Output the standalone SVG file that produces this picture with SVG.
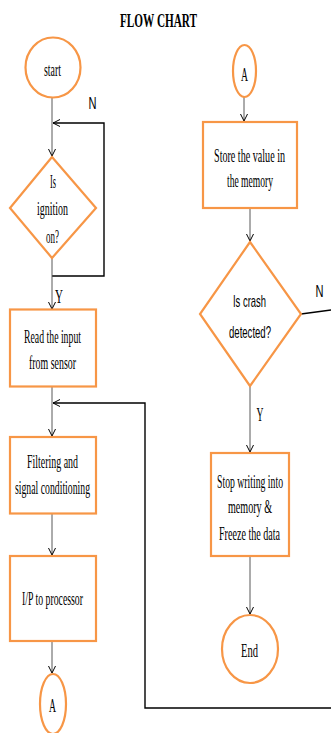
<svg xmlns="http://www.w3.org/2000/svg" width="331" height="733" viewBox="0 0 331 733">
<style>
.sh{fill:#fff;stroke:#F79646;stroke-width:2.2}
.c{fill:none;stroke:#595959;stroke-width:1}
.lp{fill:none;stroke:#000;stroke-width:1.4}
.t{font-family:"Liberation Serif",serif;font-size:19px;fill:#000;text-anchor:middle}
.s{font-family:"Liberation Sans",sans-serif;font-size:17px;fill:#000;text-anchor:middle}
</style>
<defs>
<marker id="ar" markerUnits="userSpaceOnUse" markerWidth="10" markerHeight="10" refX="7" refY="4" orient="auto">
<path d="M0,0.5 L7,4 L0,7.5" fill="none" stroke="#000" stroke-width="1"/>
</marker>
</defs>
<rect width="331" height="733" fill="#fff"/>
<text class="t" x="158.5" y="27" font-weight="bold" font-size="18" textLength="77" lengthAdjust="spacingAndGlyphs">FLOW CHART</text>

<g id="connectors">
<line class="c" x1="52" y1="97" x2="52" y2="156" marker-end="url(#ar)"/>
<polyline class="lp" points="52,276 104,276 104,123 53,123" marker-end="url(#ar)"/>
<line class="c" x1="52" y1="258" x2="52" y2="309" marker-end="url(#ar)"/>
<line class="c" x1="52" y1="387" x2="52" y2="436" marker-end="url(#ar)"/>
<polyline class="lp" points="331,708 145,708 145,403 53,403" marker-end="url(#ar)"/>
<line class="c" x1="52" y1="514" x2="52" y2="555" marker-end="url(#ar)"/>
<line class="c" x1="52" y1="641" x2="52" y2="673" marker-end="url(#ar)"/>
<line class="c" x1="244" y1="97" x2="244" y2="121" marker-end="url(#ar)"/>
<line class="c" x1="250" y1="208" x2="250" y2="241" marker-end="url(#ar)"/>
<line class="lp" x1="301" y1="314" x2="331" y2="310"/>
<line class="c" x1="250" y1="386" x2="250" y2="452" marker-end="url(#ar)"/>
<line class="c" x1="250" y1="556" x2="250" y2="614" marker-end="url(#ar)"/>
<text class="s" x="92.5" y="109" textLength="8" lengthAdjust="spacingAndGlyphs">N</text>
<text class="t" transform="translate(59,303) scale(0.55,1)" textLength="14.5" lengthAdjust="spacingAndGlyphs">Y</text>
<text class="s" x="319.5" y="297" textLength="8" lengthAdjust="spacingAndGlyphs">N</text>
<text class="t" transform="translate(260,421) scale(0.55,1)" textLength="12.7" lengthAdjust="spacingAndGlyphs">Y</text>
</g>

<g id="start">
<ellipse class="sh" cx="53" cy="67.5" rx="27.5" ry="30"/>
<text class="t" transform="translate(52.5,76) scale(0.55,1)" textLength="30.9" lengthAdjust="spacingAndGlyphs">start</text>
</g>

<g id="ignition">
<polygon class="sh" points="52,157 96,208 52,258 10,208"/>
<text class="t" transform="translate(53,188) scale(0.55,1)" textLength="10.9" lengthAdjust="spacingAndGlyphs">Is</text>
<text class="t" transform="translate(52.5,215) scale(0.55,1)" textLength="56.4" lengthAdjust="spacingAndGlyphs">ignition</text>
<text class="t" transform="translate(52.5,243) scale(0.55,1)" textLength="23.6" lengthAdjust="spacingAndGlyphs">on?</text>
</g>

<g id="read">
<rect class="sh" x="10" y="309.5" width="86" height="77"/>
<text class="t" transform="translate(52.5,343) scale(0.55,1)" textLength="103.6" lengthAdjust="spacingAndGlyphs">Read the input</text>
<text class="t" transform="translate(52.5,369) scale(0.55,1)" textLength="85.5" lengthAdjust="spacingAndGlyphs">from sensor</text>
</g>

<g id="filter">
<rect class="sh" x="10" y="437" width="86" height="76.5"/>
<text class="t" transform="translate(52.5,468) scale(0.55,1)" textLength="92.7" lengthAdjust="spacingAndGlyphs">Filtering and</text>
<text class="t" transform="translate(52.5,494) scale(0.55,1)" textLength="136.4" lengthAdjust="spacingAndGlyphs">signal conditioning</text>
</g>

<g id="processor">
<rect class="sh" x="10" y="556" width="86" height="85"/>
<text class="t" transform="translate(52.5,605) scale(0.55,1)" textLength="110.9" lengthAdjust="spacingAndGlyphs">I/P to processor</text>
</g>

<g id="connA1">
<ellipse class="sh" cx="53" cy="704" rx="13" ry="30"/>
<text class="t" transform="translate(52.5,712) scale(0.55,1)" textLength="12.7" lengthAdjust="spacingAndGlyphs">A</text>
</g>

<g id="connA2">
<ellipse class="sh" cx="244.5" cy="71" rx="11.5" ry="26"/>
<text class="t" transform="translate(244.5,81) scale(0.55,1)" textLength="12.7" lengthAdjust="spacingAndGlyphs">A</text>
</g>

<g id="store">
<rect class="sh" x="203" y="122" width="94" height="86"/>
<text class="t" transform="translate(249.5,162) scale(0.55,1)" textLength="129.1" lengthAdjust="spacingAndGlyphs">Store the value in</text>
<text class="t" transform="translate(250,187) scale(0.55,1)" textLength="83.6" lengthAdjust="spacingAndGlyphs">the memory</text>
</g>

<g id="crash">
<polygon class="sh" points="250,242 301,314 250,386 200,314"/>
<text class="s" x="249.5" y="307" textLength="33" lengthAdjust="spacingAndGlyphs">Is crash</text>
<text class="s" x="250" y="338" textLength="42" lengthAdjust="spacingAndGlyphs">detected?</text>
</g>

<g id="freeze">
<rect class="sh" x="211" y="453" width="78" height="103"/>
<text class="t" transform="translate(250,488) scale(0.55,1)" textLength="120" lengthAdjust="spacingAndGlyphs">Stop writing into</text>
<text class="t" transform="translate(250,513) scale(0.55,1)" textLength="80" lengthAdjust="spacingAndGlyphs">memory &amp;</text>
<text class="t" transform="translate(249.5,540) scale(0.55,1)" textLength="110.9" lengthAdjust="spacingAndGlyphs">Freeze the data</text>
</g>

<g id="end">
<ellipse class="sh" cx="250" cy="649" rx="28" ry="34"/>
<text class="t" transform="translate(249.5,657) scale(0.55,1)" textLength="30.9" lengthAdjust="spacingAndGlyphs">End</text>
</g>
</svg>
